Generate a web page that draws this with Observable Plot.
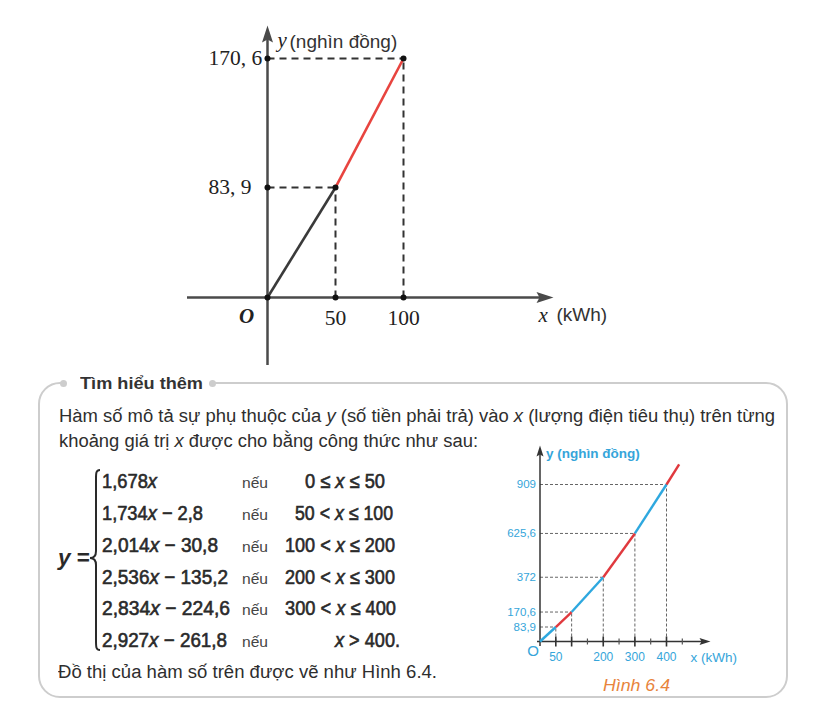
<!DOCTYPE html>
<html><head><meta charset="utf-8">
<script src="https://cdn.jsdelivr.net/npm/d3@7"></script>
<script src="https://cdn.jsdelivr.net/npm/@observablehq/plot@0.6"></script>
<style>
html,body{margin:0;padding:0;background:#fff;}
#page{position:relative;width:815px;height:704px;overflow:hidden;font-family:"Liberation Sans",Arial,sans-serif;color:#2e2e2e;}
.abs{position:absolute;white-space:nowrap;line-height:1;transform-origin:0 0;}
#box{position:absolute;left:38px;top:382px;width:750px;height:316px;box-sizing:border-box;border:2.5px solid #cdcdcd;border-radius:22px;}
.dot{position:absolute;width:7px;height:7px;border-radius:50%;background:#cdcdcd;}
</style></head><body><div id="page"><div id="box"></div></div>
<script>
// ---------- DATA ----------
// Top figure (0..100 kWh)
const topX = [0, 50, 100];
const topY = [0, 83.9, 170.6];
const topSegColors = ["#3a3a3a", "#e8443f"];
const topXLabels = ["50", "100"];
const topYLabels = ["83, 9", "170, 6"];

// Small figure (Hình 6.4)
const smallX = [0, 50, 100, 200, 300, 400, 440];
const smallY = [0, 83.9, 170.6, 372, 625.6, 909, 1026];
const smallSegColors = ["#2ea8df", "#e0393e", "#2ea8df", "#e0393e", "#2ea8df", "#e0393e"];
const smallYLabels = ["83,9", "170,6", "372", "625,6", "909"];
const smallXLabelValues = [50, 200, 300, 400];
const smallXMajor = [50, 100, 200, 300, 400];
const smallXMinor = [150, 250, 350, 450];

// Text
const titleText = "Tìm hiểu thêm";
const bodyLines = [
  "Hàm số mô tả sự phụ thuộc của <i>y</i> (số tiền phải trả) vào <i>x</i> (lượng điện tiêu thụ) trên từng",
  "khoảng giá trị <i>x</i> được cho bằng công thức như sau:"
];
const formulaExpr = ["1,678<i>x</i>", "1,734<i>x</i> − 2,8", "2,014<i>x</i> − 30,8", "2,536<i>x</i> − 135,2", "2,834<i>x</i> − 224,6", "2,927<i>x</i> − 261,8"];
const formulaCond = ["0 ≤ <i>x</i> ≤ 50", "50 &lt; <i>x</i> ≤ 100", "100 &lt; <i>x</i> ≤ 200", "200 &lt; <i>x</i> ≤ 300", "300 &lt; <i>x</i> ≤ 400", "<i>x</i> &gt; 400."];
const closingLine = "Đồ thị của hàm số trên được vẽ như Hình 6.4.";
const captionText = "Hình 6.4";

// ---------- LAYOUT ----------
const page = document.getElementById("page");
const serif = "'Liberation Serif','DejaVu Serif',serif";
const sans = "'Liberation Sans',Arial,sans-serif";

const arrowUp = {draw(c){c.moveTo(0,-9);c.lineTo(5.5,8);c.lineTo(0,5);c.lineTo(-5.5,8);c.closePath();}};
const arrowRight = {draw(c){c.moveTo(9,0);c.lineTo(-8,-5.5);c.lineTo(-5,0);c.lineTo(-8,5.5);c.closePath();}};
const smallArrowUp = {draw(c){c.moveTo(0,-6);c.lineTo(3.5,5);c.lineTo(0,3);c.lineTo(-3.5,5);c.closePath();}};
const smallArrowRight = {draw(c){c.moveTo(6,0);c.lineTo(-5,-3.5);c.lineTo(-3,0);c.lineTo(-5,3.5);c.closePath();}};
const tickMajor = {draw(c){c.moveTo(0,-5);c.lineTo(0,5);}};
const tickMinor = {draw(c){c.moveTo(0,-3);c.lineTo(0,3);}};

// ---- top chart ----
// The printed figure is schematic; a mild power scale reproduces its spacing.
const yExp = 1.093;
const tx = d3.scaleLinear([0, 100], [267, 403]);
const ty = d3.scalePow().exponent(yExp).domain([0, topY[2]]).range([297, 58]);
const topPts = topX.map((x, i) => ({x, y: topY[i]}));
const topSegs = d3.range(topX.length - 1).map(i => ({x1: topX[i], y1: topY[i], x2: topX[i+1], y2: topY[i+1], c: topSegColors[i]}));
const topGuides = topPts.slice(1).flatMap(p => [
  {x1: 0, y1: p.y, x2: p.x, y2: p.y},
  {x1: p.x, y1: 0, x2: p.x, y2: p.y}
]);
const topDots = [...topPts, ...topPts.slice(1).flatMap(p => [{x: p.x, y: 0}, {x: 0, y: p.y}])];
const axisC = "#4a4a4a";

const topChart = Plot.plot({
  width: 815, height: 372, margin: 0,
  style: {background: "transparent", overflow: "visible"},
  x: {domain: [0, 100], range: [267, 403], axis: null},
  y: {type: "pow", exponent: yExp, domain: [0, topY[2]], range: [297, 58], axis: null},
  color: {type: "identity"},
  marks: [
    Plot.ruleY([0], {x1: tx.invert(187), x2: tx.invert(540), stroke: axisC, strokeWidth: 2.5}),
    Plot.ruleX([0], {y1: ty.invert(365), y2: ty.invert(36), stroke: axisC, strokeWidth: 2.5}),
    Plot.dot([{x: tx.invert(544), y: 0}], {x: "x", y: "y", symbol: arrowRight, fill: axisC, stroke: "none"}),
    Plot.dot([{x: 0, y: ty.invert(34)}], {x: "x", y: "y", symbol: arrowUp, fill: axisC, stroke: "none"}),
    Plot.link(topGuides, {x1: "x1", y1: "y1", x2: "x2", y2: "y2", stroke: "#333", strokeWidth: 2, strokeDasharray: "7,5"}),
    Plot.link(topSegs, {x1: "x1", y1: "y1", x2: "x2", y2: "y2", stroke: "c", strokeWidth: 2.6}),
    Plot.dot(topDots, {x: "x", y: "y", r: 3, fill: "#111", stroke: "none"}),
    Plot.text(topXLabels, {x: d => +d, y: 0, text: d => d, dy: 21, fontSize: 21.5, fontFamily: serif, fill: "#222"}),
    Plot.text(topYLabels, {x: 0, y: (d, i) => topY[i+1], text: d => d, dx: -59, textAnchor: "start", fontSize: 21.5, fontFamily: serif, fill: "#222"}),
    Plot.text(["O"], {x: 0, y: 0, text: d => d, dx: -21, dy: 19, fontSize: 21, fontFamily: serif, fontStyle: "italic", fontWeight: "bold", fill: "#222"}),
    Plot.text(["x"], {x: tx.invert(538), y: 0, text: d => d, dy: 18, textAnchor: "start", fontSize: 21, fontFamily: serif, fontStyle: "italic", fill: "#222"}),
    Plot.text(["(kWh)"], {x: tx.invert(556), y: 0, text: d => d, dy: 17, textAnchor: "start", fontSize: 19, fontFamily: sans, fill: "#333"}),
    Plot.text(["y"], {x: 0, y: ty.invert(40), text: d => d, dx: 10, textAnchor: "start", fontSize: 21, fontFamily: serif, fontStyle: "italic", fill: "#222"}),
    Plot.text(["(nghìn đồng)"], {x: 0, y: ty.invert(41), text: d => d, dx: 22, textAnchor: "start", fontSize: 19, fontFamily: sans, fill: "#333"})
  ]
});
topChart.style.position = "absolute";
topChart.style.left = "0px";
topChart.style.top = "0px";
page.appendChild(topChart);

// ---- box decorations ----
function addDot(x, y){ const d = document.createElement("div"); d.className = "dot"; d.style.left = (x-3.5)+"px"; d.style.top = (y-3.5)+"px"; page.appendChild(d); }
const gap = document.createElement("div");
gap.style.cssText = "position:absolute;left:63px;top:378px;width:150px;height:10px;background:#fff;";
page.appendChild(gap);
addDot(63, 383.5); addDot(212, 383.5);

function place(html, left, centerY, fs, targetW, style){
  const el = document.createElement("div");
  el.className = "abs";
  el.innerHTML = html;
  el.style.left = left + "px";
  el.style.top = (centerY - 0.5*fs) + "px";
  el.style.fontSize = fs + "px";
  Object.assign(el.style, style || {});
  page.appendChild(el);
  if (targetW) {
    const w = el.getBoundingClientRect().width;
    el.style.transform = `scaleX(${targetW / w})`;
  }
  return el;
}

place(titleText, 80, 383, 17, 123, {fontWeight: "bold", color: "#333"});
place(bodyLines[0], 59, 416, 18, 716);
place(bodyLines[1], 59, 441, 18, 419);

const semi = {fontWeight: "normal", color: "#2a2a2a", webkitTextStroke: "0.6px #2a2a2a"};
const rowY = [481, 513, 545, 577, 608, 640];
const exprW = [55, 101, 116, 126, 128, 125];
const condL = [305, 295, 285, 285, 285, 335];
const condW = [80, 98, 110, 110, 111, 65];
formulaExpr.forEach((h, i) => {
  place(h, 102, rowY[i], 20, exprW[i], semi);
  place("nếu", 242, rowY[i] + 1, 15, 26, {color: "#444"});
  place(formulaCond[i], condL[i], rowY[i], 20, condW[i], semi);
});
place("<i>y</i> =", 58, 558, 22, 32, {fontWeight: "bold", color: "#2a2a2a"});

// brace
const ns = "http://www.w3.org/2000/svg";
const bsvg = document.createElementNS(ns, "svg");
bsvg.setAttribute("width", "20"); bsvg.setAttribute("height", "190");
bsvg.style.cssText = "position:absolute;left:86px;top:465px;";
const bp = document.createElementNS(ns, "path");
bp.setAttribute("d", "M14,5 C10,5 10,8 10,14 L10,86 C10,90 8,93 4,93 C8,93 10,96 10,100 L10,176 C10,182 10,185 14,185");
bp.setAttribute("fill", "none"); bp.setAttribute("stroke", "#2a2a2a"); bp.setAttribute("stroke-width", "2");
bsvg.appendChild(bp);
page.appendChild(bsvg);

place(closingLine, 58, 672, 18, 379);

// ---- small chart ----
const SL = 480, ST = 430;
const sx = d3.scaleLinear([0, 400], [59.5, 186]);
const sy = d3.scaleLinear([0, 909], [211, 54]);
const sPts = smallX.map((x, i) => ({x, y: smallY[i]}));
const sSegs = d3.range(smallX.length - 1).map(i => ({x1: smallX[i], y1: smallY[i], x2: smallX[i+1], y2: smallY[i+1], c: smallSegColors[i]}));
const sGuides = sPts.slice(1, 6).flatMap(p => [
  {x1: 0, y1: p.y, x2: p.x, y2: p.y},
  {x1: p.x, y1: 0, x2: p.x, y2: p.y}
]);
const cyan = "#35a5da";
const smallChart = Plot.plot({
  width: 300, height: 265, margin: 0,
  style: {background: "transparent", overflow: "visible"},
  x: {domain: [0, 400], range: [59.5, 186], axis: null},
  y: {domain: [0, 909], range: [211, 54], axis: null},
  color: {type: "identity"},
  marks: [
    Plot.link(sGuides, {x1: "x1", y1: "y1", x2: "x2", y2: "y2", stroke: "#666", strokeWidth: 1, strokeDasharray: "3,2"}),
    Plot.ruleY([0], {x1: sx.invert(57), x2: sx.invert(226), stroke: "#333", strokeWidth: 1.5}),
    Plot.ruleX([0], {y1: sy.invert(216), y2: sy.invert(20), stroke: "#333", strokeWidth: 1.5}),
    Plot.dot([{x: sx.invert(224), y: 0}], {x: "x", y: "y", symbol: smallArrowRight, fill: "#333", stroke: "none"}),
    Plot.dot([{x: 0, y: sy.invert(21)}], {x: "x", y: "y", symbol: smallArrowUp, fill: "#333", stroke: "none"}),
    Plot.dot(smallXMajor, {x: d => d, y: 0, symbol: tickMajor, stroke: "#333", strokeWidth: 1.6, fill: "none"}),
    Plot.dot(smallXMinor, {x: d => d, y: 0, symbol: tickMinor, stroke: "#555", strokeWidth: 1.2, fill: "none"}),
    Plot.link(sSegs, {x1: "x1", y1: "y1", x2: "x2", y2: "y2", stroke: "c", strokeWidth: 2.4}),
    Plot.text(smallYLabels, {x: 0, y: (d, i) => smallY[i+1], text: d => d, dx: -4, textAnchor: "end", fontSize: 11.5, fontFamily: sans, fill: cyan}),
    Plot.text(smallXLabelValues, {x: d => d, y: 0, text: d => String(d), dy: 16, fontSize: 12, fontFamily: sans, fill: cyan}),
    Plot.text(["O"], {x: 0, y: 0, text: d => d, dx: -7, dy: 10, fontSize: 15, fontFamily: sans, fill: cyan}),
    Plot.text(["x (kWh)"], {x: sx.invert(210), y: 0, text: d => d, dy: 16, textAnchor: "start", fontSize: 13.5, fontFamily: sans, fill: cyan}),
    Plot.text(["y (nghìn đồng)"], {x: 0, y: sy.invert(23), text: d => d, dx: 6, textAnchor: "start", fontSize: 13.5, fontFamily: sans, fontWeight: "bold", fill: cyan})
  ]
});
smallChart.style.position = "absolute";
smallChart.style.left = SL + "px";
smallChart.style.top = ST + "px";
page.appendChild(smallChart);

place(captionText, 603, 685, 17, 67, {fontStyle: "italic", color: "#e8843c"});
</script>
</body></html>
